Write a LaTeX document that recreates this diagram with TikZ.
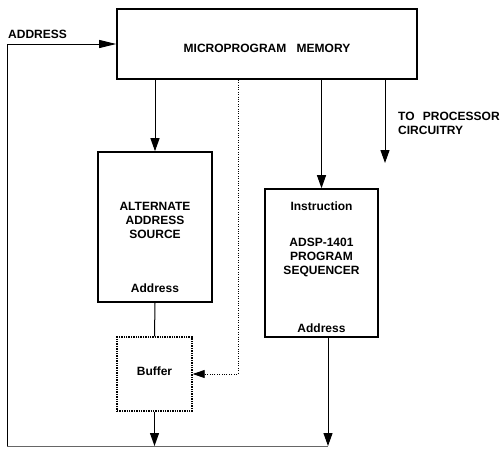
\documentclass[tikz,border=0pt]{standalone}
\usepackage{fontspec}
\setsansfont{Liberation Sans}
\usetikzlibrary{arrows.meta,positioning}

\begin{document}
\begin{tikzpicture}[x=1pt,y=-1pt,
  every node/.style={font=\sffamily\bfseries\fontsize{12}{14}\selectfont,inner sep=0pt},
  blk/.style={draw,line width=1.6pt,align=center},
  feed/.style={line width=1pt,-{Triangle[length=13pt,width=9pt]}},
  tap/.style={line width=0.9pt,dash pattern=on 1pt off 1.4pt,-{Triangle[length=12pt,width=8pt]}}]
\useasboundingbox (0,0) rectangle (502,448);
\node[blk,minimum width=300pt,minimum height=70pt,text height=16pt,text depth=0pt] (mem) at (267,44) {MICROPROGRAM\hspace{7pt} MEMORY};
\node[blk,minimum width=114pt,minimum height=150pt,text depth=12.6pt] (alt) at (155,227) {ALTERNATE\\ADDRESS\\SOURCE};
\node[blk,minimum width=113pt,minimum height=148pt,text depth=12.6pt] (seq) at (321.5,263) {ADSP-1401\\PROGRAM\\SEQUENCER};
\node[draw,line width=1.4pt,densely dotted,minimum width=75pt,minimum height=74pt,text depth=6.6pt] (buf) at (154.5,374) {Buffer};
\node[above=10pt of alt.south] (altad) {Address};
\node[below=13pt of seq.north] (seqin) {Instruction};
\node[above=5pt of seq.south] (seqad) {Address};
\node[anchor=base west] (addr) at (8,38) {ADDRESS};
\node[anchor=north west,align=left] (procl) at (398,112) {TO\hspace{5pt} PROCESSOR\\CIRCUITRY};
\coordinate (proc) at (385,163);
\coordinate (dot) at (238,0);
\coordinate (bus) at (7,446);
\coordinate (out) at ([xshift=6.5pt]seq.south);
\draw[feed] (alt.north |- mem.south) -- (alt.north);
\draw[feed] (seq.north |- mem.south) -- (seq.north);
\draw[feed] (proc |- mem.south) -- (proc);
\draw[line width=1pt] (alt.south) -- (buf.north);
\draw[tap] (mem.south -| dot) |- (buf.east);
\draw[feed] (buf.south) -- (buf.south |- bus);
\draw[feed] (out) -- (out |- bus);
\draw[line width=0.8pt,black!60] (out |- bus) -- (bus);
\draw[line width=0.9pt,-{Triangle[length=17pt,width=8pt]}] (bus) |- (mem.west);
\end{tikzpicture}
\end{document}
